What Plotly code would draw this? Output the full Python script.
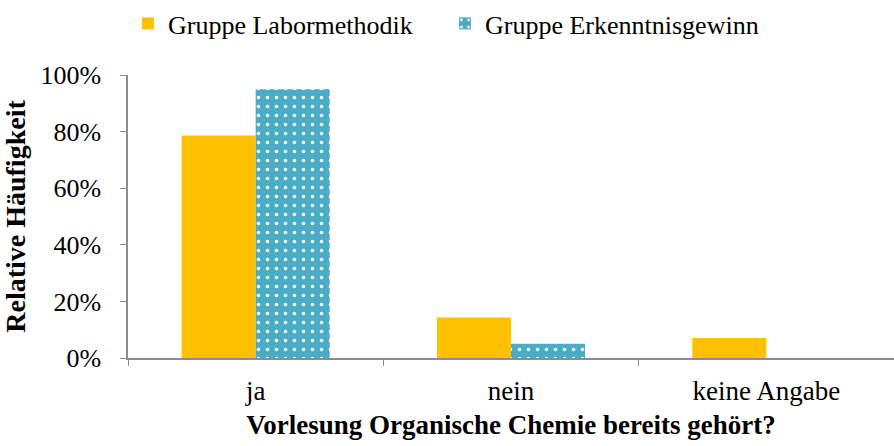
import plotly.graph_objects as go

categories = ["ja", "nein", "keine Angabe"]
labormethodik = [0.786, 0.143, 0.071]
erkenntnisgewinn = [0.95, 0.05, 0.0]
series_names = ["Gruppe Labormethodik", "Gruppe Erkenntnisgewinn"]

FONT = "Liberation Serif, Times New Roman, serif"
AXIS_COLOR = "#8c8c8c"

fig = go.Figure()
fig.add_trace(go.Bar(
    x=categories, y=labormethodik, name=series_names[0],
    marker=dict(color="#FFC000", line=dict(width=0)),
    legend="legend",
))
fig.add_trace(go.Bar(
    x=categories, y=erkenntnisgewinn, name=series_names[1],
    marker=dict(color="#4BACC6", line=dict(width=0),
                pattern=dict(shape=".", fgcolor="white", bgcolor="#4BACC6",
                             size=9, solidity=0.12, fillmode="replace")),
    legend="legend2",
))

legend_common = dict(orientation="h", xref="container", xanchor="left",
                     y=1.0, yref="container", yanchor="top",
                     font=dict(family=FONT, size=26), itemwidth=30)

fig.update_layout(
    width=894, height=446,
    margin=dict(l=128, r=0, t=75, b=88, autoexpand=False),
    paper_bgcolor="white", plot_bgcolor="white",
    font=dict(family=FONT, size=26, color="black"),
    barmode="group", bargap=0.42, bargroupgap=0,
    showlegend=True,
    legend=dict(x=128 / 894, **legend_common),
    legend2=dict(x=445 / 894, **legend_common),
    xaxis=dict(
        showline=True, linecolor=AXIS_COLOR, linewidth=1.5,
        ticks="outside", tickson="boundaries", ticklen=6, tickcolor=AXIS_COLOR,
        tickfont=dict(family=FONT, size=27), ticklabelstandoff=8,
        title=dict(text="<b>Vorlesung Organische Chemie bereits gehört?</b>",
                   font=dict(family=FONT, size=27), standoff=10),
        showgrid=False,
    ),
    yaxis=dict(
        range=[0, 1], tickvals=[0, 0.2, 0.4, 0.6, 0.8, 1.0], tickformat=".0%",
        showline=True, linecolor=AXIS_COLOR, linewidth=1.5,
        ticks="outside", ticklen=6, tickcolor=AXIS_COLOR,
        tickfont=dict(family=FONT, size=26), ticklabelstandoff=14,
        title=dict(text="<b>Relative Häufigkeit</b>",
                   font=dict(family=FONT, size=28), standoff=8),
        showgrid=False, zeroline=False,
    ),
)

fig.write_html("out.html", config={"displayModeBar": False},
               post_script="document.body.style.margin='0';document.body.style.overflow='hidden';")
